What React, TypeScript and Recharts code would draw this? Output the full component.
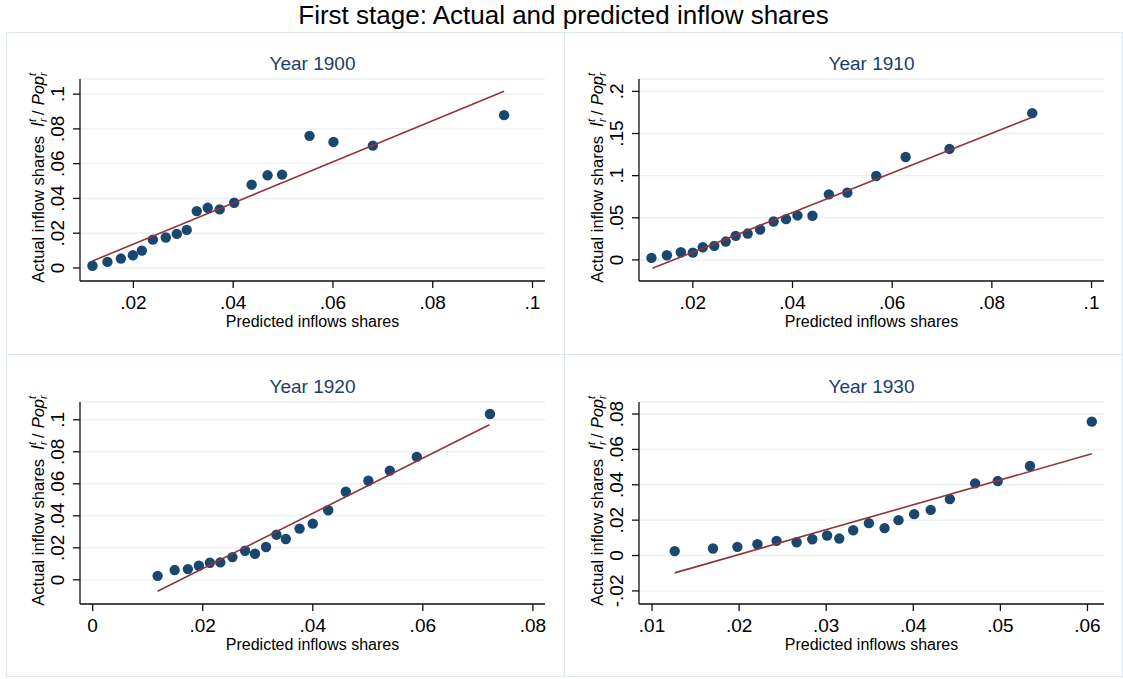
import { ScatterChart, Scatter, XAxis, YAxis, CartesianGrid } from "recharts";

const NAVY = "#1a476f";
const TITLE_NAVY = "#1b3d69";
const MAROON = "#90353b";
const GRID = "#e9f1f3";
const FRAME = "#dde9ed";
const FONT = "'Liberation Sans', Arial, Helvetica, sans-serif";

// Year 1900
const predicted1900 = [0.0118, 0.0148, 0.0175, 0.0199, 0.0217, 0.0239, 0.0265, 0.0287, 0.0307, 0.0327, 0.0349, 0.0373, 0.0402, 0.0437, 0.0469, 0.0498, 0.0553, 0.0601, 0.068, 0.0943];
const actual1900 = [0.0013, 0.0035, 0.0054, 0.0073, 0.01, 0.0163, 0.0175, 0.0196, 0.0219, 0.0327, 0.0346, 0.0337, 0.0375, 0.0479, 0.0533, 0.0537, 0.076, 0.0725, 0.0704, 0.0879];
const fitX1900 = [0.0118, 0.0943];
const fitY1900 = [0.004, 0.1017];
const xTicks1900 = [0.02, 0.04, 0.06, 0.08, 0.1];
const yTicks1900 = [0, 0.02, 0.04, 0.06, 0.08, 0.1];

// Year 1910
const predicted1910 = [0.0117, 0.0148, 0.0176, 0.02, 0.022, 0.0243, 0.0266, 0.0286, 0.031, 0.0335, 0.0362, 0.0387, 0.041, 0.044, 0.0473, 0.051, 0.0568, 0.0627, 0.0715, 0.0881];
const actual1910 = [0.0024, 0.0056, 0.0091, 0.0087, 0.0151, 0.0167, 0.0218, 0.0286, 0.0313, 0.0361, 0.0456, 0.0484, 0.0528, 0.0524, 0.0778, 0.0798, 0.0996, 0.1222, 0.1317, 0.1742];
const fitX1910 = [0.0119, 0.0881];
const fitY1910 = [-0.0099, 0.1694];
const xTicks1910 = [0.02, 0.04, 0.06, 0.08, 0.1];
const yTicks1910 = [0, 0.05, 0.1, 0.15, 0.2];

// Year 1920
const predicted1920 = [0.0118, 0.0149, 0.0173, 0.0193, 0.0213, 0.0232, 0.0254, 0.0277, 0.0295, 0.0315, 0.0334, 0.0351, 0.0376, 0.04, 0.0428, 0.046, 0.0501, 0.054, 0.0589, 0.0722];
const actual1920 = [0.0025, 0.0061, 0.0067, 0.0088, 0.0107, 0.0109, 0.0142, 0.0182, 0.0163, 0.0205, 0.0282, 0.0255, 0.032, 0.0351, 0.0435, 0.055, 0.0619, 0.0682, 0.0768, 0.1036];
const fitX1920 = [0.0118, 0.0721];
const fitY1920 = [-0.0071, 0.0969];
const xTicks1920 = [0, 0.02, 0.04, 0.06, 0.08];
const yTicks1920 = [0, 0.02, 0.04, 0.06, 0.08, 0.1];

// Year 1930
const predicted1930 = [0.0126, 0.017, 0.0198, 0.0221, 0.0243, 0.0266, 0.0284, 0.0301, 0.0315, 0.0331, 0.0349, 0.0367, 0.0383, 0.0401, 0.042, 0.0442, 0.0471, 0.0497, 0.0534, 0.0605];
const actual1930 = [0.0025, 0.004, 0.0049, 0.0064, 0.0083, 0.0075, 0.0092, 0.0113, 0.0096, 0.0143, 0.0183, 0.0155, 0.02, 0.0234, 0.0258, 0.0319, 0.0408, 0.0421, 0.0506, 0.0757];
const fitX1930 = [0.0126, 0.0605];
const fitY1930 = [-0.0098, 0.0575];
const xTicks1930 = [0.01, 0.02, 0.03, 0.04, 0.05, 0.06];
const yTicks1930 = [-0.02, 0, 0.02, 0.04, 0.06, 0.08];

// panel geometry (plot region = margin.left + Y axis width ... width - margin.right)
const PANEL_W = 558;
const MARGIN_LEFT = 14;
const Y_AXIS_W = 60;
const MARGIN_RIGHT = 19;
const PLOT_W = PANEL_W - MARGIN_LEFT - Y_AXIS_W - MARGIN_RIGHT;

// Stata-style tick labels: .02, -.02, 0, .1
const stata = (v: number) => {
  if (v === 0) return "0";
  return String(Number(v.toFixed(4))).replace(/^(-?)0\./, "$1.");
};

const zip = (xs: number[], ys: number[]) => xs.map((x, i) => ({ x, y: ys[i] }));

const XTick = ({ x, y, payload }: any) => (
  <text x={x} y={y + 20.6} textAnchor="middle" fontSize={19} fontFamily={FONT} fill="#000">
    {stata(payload.value)}
  </text>
);

const YTick = ({ x, y, payload }: any) => {
  const bx = x - 8.7;
  return (
    <text transform={`rotate(-90 ${bx} ${y})`} x={bx} y={y} textAnchor="middle" fontSize={19} fontFamily={FONT} fill="#000">
      {stata(payload.value)}
    </text>
  );
};

const XTitle = ({ viewBox }: any) => (
  <text x={viewBox.x + viewBox.width / 2} y={viewBox.y + 46} textAnchor="middle" fontSize={16} fontFamily={FONT} fill="#000">
    Predicted inflows shares
  </text>
);

const YTitle = ({ viewBox }: any) => {
  const cx = viewBox.x + viewBox.width - 36.4;
  const cy = viewBox.y + viewBox.height / 2 - 2.5;
  return (
    <text transform={`rotate(-90 ${cx} ${cy})`} x={cx} y={cy} textAnchor="middle" fontSize={16.5} fontFamily={FONT} fill="#000">
      Actual inflow shares
      <tspan dx={9} fontStyle="italic" fontSize={17.5}>I</tspan>
      <tspan fontSize={11} fontStyle="italic" dy={3.5}>r</tspan>
      <tspan fontSize={11} fontStyle="italic" dx={-3.6} dy={-11}>t</tspan>
      <tspan dx={4} dy={7.5}>/</tspan>
      <tspan dx={5} fontStyle="italic">Pop</tspan>
      <tspan fontSize={11} fontStyle="italic" dy={3.5}>r</tspan>
      <tspan fontSize={11} fontStyle="italic" dx={-3.6} dy={-11}>t</tspan>
    </text>
  );
};

const Dot = ({ cx, cy }: any) => <circle cx={cx} cy={cy} r={5.2} fill={NAVY} />;

type PanelProps = {
  year: string;
  left: number;
  top: number;
  height: number;
  marginTop: number;
  xs: number[];
  ys: number[];
  fitX: number[];
  fitY: number[];
  xDomain: [number, number];
  yDomain: [number, number];
  xTicks: number[];
  yTicks: number[];
};

const Panel = (p: PanelProps) => (
  <div style={{ position: "absolute", left: p.left, top: p.top, width: PANEL_W, height: p.height }}>
    <div
      style={{
        position: "absolute",
        left: MARGIN_LEFT + Y_AXIS_W,
        width: PLOT_W,
        top: p.marginTop - 25.5,
        textAlign: "center",
        fontFamily: FONT,
        fontSize: 19,
        lineHeight: "19px",
        color: TITLE_NAVY,
      }}
    >
      {p.year}
    </div>
    <ScatterChart
      width={PANEL_W}
      height={p.height}
      margin={{ top: p.marginTop, right: MARGIN_RIGHT, bottom: 13, left: MARGIN_LEFT }}
    >
      <CartesianGrid vertical={false} stroke={GRID} strokeWidth={1.4} />
      <XAxis
        type="number"
        dataKey="x"
        domain={p.xDomain}
        ticks={p.xTicks}
        interval={0}
        allowDataOverflow
        height={60}
        tickSize={7}
        tickMargin={0}
        tick={<XTick />}
        axisLine={{ stroke: "#111", strokeWidth: 1.3 }}
        tickLine={{ stroke: "#111", strokeWidth: 1.3 }}
        label={(props: any) => <XTitle viewBox={props.viewBox} />}
      />
      <YAxis
        type="number"
        dataKey="y"
        domain={p.yDomain}
        ticks={p.yTicks}
        interval={0}
        allowDataOverflow
        width={Y_AXIS_W}
        tickSize={7}
        tickMargin={0}
        tick={<YTick />}
        axisLine={{ stroke: "#111", strokeWidth: 1.3 }}
        tickLine={{ stroke: "#111", strokeWidth: 1.3 }}
        label={(props: any) => <YTitle viewBox={props.viewBox} />}
      />
      <Scatter data={zip(p.xs, p.ys)} shape={<Dot />} isAnimationActive={false} />
      <Scatter
        data={zip(p.fitX, p.fitY)}
        line={{ stroke: MAROON, strokeWidth: 1.6 }}
        shape={() => <g />}
        isAnimationActive={false}
      />
    </ScatterChart>
  </div>
);

export default function App() {
  return (
    <div style={{ position: "absolute", left: 0, top: 0, width: 1123, height: 679, background: "#fff" }}>
      <svg width={1123} height={679} style={{ position: "absolute", left: 0, top: 0 }}>
        <text x={563.5} y={23.5} textAnchor="middle" fontSize={26} fontFamily={FONT} fill="#000">
          First stage: Actual and predicted inflow shares
        </text>
        <g stroke={FRAME} strokeWidth={1.2} fill="none">
          <rect x={6.5} y={32.5} width={1116} height={644} />
          <line x1={564.5} y1={32.5} x2={564.5} y2={676.5} />
          <line x1={6.5} y1={354.5} x2={1122.5} y2={354.5} />
        </g>
      </svg>
      <Panel
        year="Year 1900"
        left={6}
        top={32}
        height={322}
        marginTop={47}
        xs={predicted1900}
        ys={actual1900}
        fitX={fitX1900}
        fitY={fitY1900}
        xDomain={[0.0093, 0.1025]}
        yDomain={[-0.0075, 0.1087]}
        xTicks={xTicks1900}
        yTicks={yTicks1900}
      />
      <Panel
        year="Year 1910"
        left={565}
        top={32}
        height={322}
        marginTop={47}
        xs={predicted1910}
        ys={actual1910}
        fitX={fitX1910}
        fitY={fitY1910}
        xDomain={[0.0092, 0.1025]}
        yDomain={[-0.025, 0.2147]}
        xTicks={xTicks1910}
        yTicks={yTicks1910}
      />
      <Panel
        year="Year 1920"
        left={6}
        top={354}
        height={323}
        marginTop={48}
        xs={predicted1920}
        ys={actual1920}
        fitX={fitX1920}
        fitY={fitY1920}
        xDomain={[-0.0023, 0.0822]}
        yDomain={[-0.0151, 0.1111]}
        xTicks={xTicks1920}
        yTicks={yTicks1920}
      />
      <Panel
        year="Year 1930"
        left={565}
        top={354}
        height={323}
        marginTop={48}
        xs={predicted1930}
        ys={actual1930}
        fitX={fitX1930}
        fitY={fitY1930}
        xDomain={[0.0085, 0.0619]}
        yDomain={[-0.0274, 0.0868]}
        xTicks={xTicks1930}
        yTicks={yTicks1930}
      />
    </div>
  );
}
